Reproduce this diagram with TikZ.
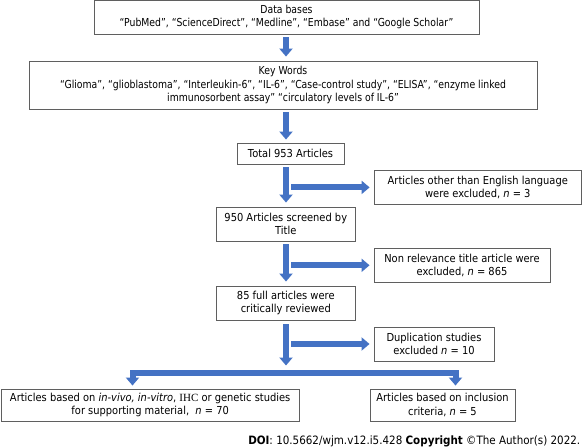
\documentclass[tikz,border=0pt]{standalone}
\usepackage{fontspec}
\setmainfont{DejaVu Sans}[FakeStretch=0.9]
\newfontfamily\narrowfont{DejaVu Sans}[FakeStretch=0.845]
\newfontfamily\ihcfont{Liberation Serif}
\usetikzlibrary{arrows.meta}
\definecolor{flowblue}{RGB}{68,114,196}
\definecolor{boxgray}{RGB}{95,95,95}
\begin{document}
\begin{tikzpicture}[x=1pt,y=1pt,
  flowbox/.style={draw=boxgray, line width=0.9pt, inner sep=0pt, align=center,
    font=\fontsize{11}{13.4}\selectfont, text=black},
  widebox/.style={flowbox, font=\narrowfont\fontsize{11}{13.4}\selectfont},
  bigarrow/.style={draw=flowblue, line width=6pt, -{Triangle[width=13pt,length=8pt]}},
  sidearrow/.style={bigarrow, shorten >=4pt},
]
\useasboundingbox (0,0) rectangle (582,-447);
\fill[white] (0,0) rectangle (582,-447);
\coordinate (spine) at (286,0);

\node[widebox, minimum width=385, minimum height=33.5] (db) at (286.5,-17.2)
  {Data bases\\“PubMed”, “ScienceDirect”, “Medline”, “Embase” and “Google Scholar”};
\node[widebox, minimum width=508, minimum height=48] (kw) at (283,-85)
  {Key Words\\“Glioma”, “glioblastoma”, “Interleukin-6”, “IL-6”, “Case-control study”, “ELISA”, “enzyme linked\\immunosorbent assay” “circulatory levels of IL-6”};
\node[flowbox, minimum width=107, minimum height=21] (total) at (290.5,-153.5)
  {Total 953 Articles};
\node[flowbox, minimum width=207.5, minimum height=33.3] (ex1) at (477.8,-187.4)
  {Articles other than English language\\were excluded, \textit{n} = 3};
\node[flowbox, minimum width=138.3, minimum height=34] (s950) at (285.8,-224)
  {950 Articles screened by\\Title};
\node[flowbox, minimum width=176, minimum height=34.7] (ex2) at (462,-265.3)
  {Non relevance title article were\\excluded, \textit{n} = 865};
\node[flowbox, minimum width=138.3, minimum height=34] (s85) at (285.8,-303)
  {85 full articles were\\critically reviewed};
\node[flowbox, minimum width=120, minimum height=34] (ex3) at (434,-344)
  {Duplication studies\\excluded \textit{n} = 10};
\node[flowbox, minimum width=298, minimum height=32] (bl) at (150.2,-405)
  {Articles based on \textit{in-vivo, in-vitro}, {\ihcfont IHC} or genetic studies\\for supporting material, ~\textit{n} = 70};
\node[flowbox, minimum width=145, minimum height=32] (br) at (442.5,-405)
  {Articles based on inclusion\\criteria, \textit{n} = 5};
\node[inner sep=0pt, anchor=east, font=\fontsize{11.5}{13}\selectfont] (doi) at (580.5,-441)
  {\textbf{DOI}: 10.5662/wjm.v12.i5.428 \textbf{Copyright} ©The Author(s) 2022.};

% main spine arrows
\draw[bigarrow, shorten <=3pt, shorten >=4pt] (db.south -| spine) -- (kw.north -| spine);
\draw[bigarrow, shorten <=3pt, shorten >=3pt] (kw.south -| spine) -- (total.north -| spine);
\draw[bigarrow, shorten <=3pt, shorten >=4pt] (total.south -| spine) -- (s950.north -| spine);
\draw[bigarrow, shorten <=3pt, shorten >=4pt] (s950.south -| spine) -- (s85.north -| spine);

% side arrows
\draw[sidearrow] ([xshift=5pt]spine |- ex1.west) -- (ex1.west);
\draw[sidearrow] ([xshift=5pt]spine |- ex2.west) -- (ex2.west);
\draw[sidearrow] ([xshift=5pt]spine |- ex3.west) -- (ex3.west);

% split
\coordinate (bar) at (286,-372.5);
\coordinate (lbar) at (132.5,-372.5);
\coordinate (rbar) at (455.5,-372.5);
\draw[bigarrow, shorten <=4pt, shorten >=7pt] (s85.south -| spine) -- (bar);
\draw[draw=flowblue, line width=6pt, line join=miter,
  {Triangle[width=13pt,length=8pt]}-{Triangle[width=13pt,length=8pt]},
  shorten <=3pt, shorten >=3pt]
  (lbar |- bl.north) -- (lbar) -- (rbar) -- (rbar |- br.north);
\end{tikzpicture}
\end{document}
